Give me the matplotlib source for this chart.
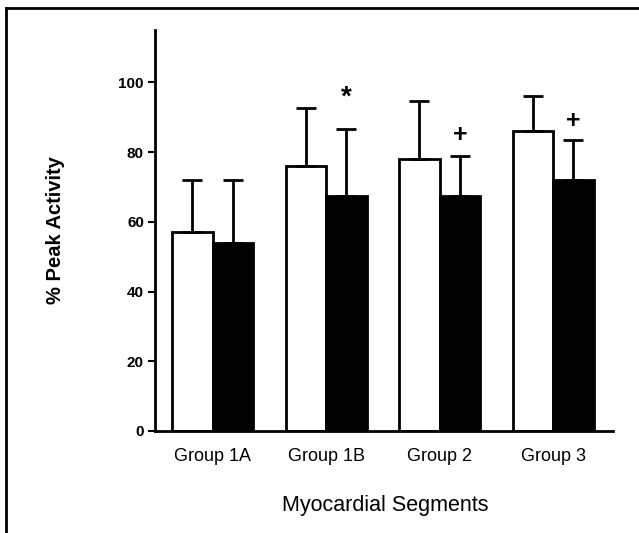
import numpy as np
import matplotlib.pyplot as plt
from matplotlib.lines import Line2D

plt.rcParams['font.family'] = ['Liberation Sans', 'DejaVu Sans']

groups = ['Group 1A', 'Group 1B', 'Group 2', 'Group 3']
open_vals = [57, 76, 78, 86]
open_err = [15, 16.5, 16.5, 10]
solid_vals = [54, 67.5, 67.5, 72]
solid_err = [18, 19, 11.5, 11.5]
marks = ['', '*', '+', '+']
mark_y = [0, 95.5, 85, 89]

fig = plt.figure(figsize=(6.39, 5.33), dpi=100)
ax = fig.add_axes([0.2426, 0.1914, 0.7167, 0.7523])

x = np.arange(len(groups))
w = 0.358
ekw = dict(elinewidth=2, capthick=2, capsize=7.2, ecolor='black')
ax.bar(x - w / 2, open_vals, w, color='white', edgecolor='black', linewidth=2,
       yerr=[np.zeros(4), open_err], error_kw=ekw, zorder=2)
ax.bar(x + w / 2, solid_vals, w, color='black', edgecolor='black', linewidth=2,
       yerr=[np.zeros(4), solid_err], error_kw=ekw, zorder=2)

for i, m in enumerate(marks):
    if m:
        ax.text(x[i] + w / 2, mark_y[i], m, ha='center', va='center',
                fontsize=18 if m == '+' else 20, fontweight='bold')

ax.set_xlim(-0.508, 3.527)
ax.set_ylim(0, 115)
ax.set_yticks([0, 20, 40, 60, 80, 100])
ax.set_xticks(x)
ax.set_xticklabels(groups, fontsize=13)
for lab in ax.get_yticklabels():
    lab.set_fontweight('bold')
    lab.set_fontsize(11)
ax.tick_params(axis='x', length=0, pad=12)
ax.tick_params(axis='y', length=5, width=1.5, direction='out', pad=3)
ax.spines['top'].set_visible(False)
ax.spines['right'].set_visible(False)
ax.spines['left'].set_linewidth(2)
ax.spines['bottom'].set_linewidth(2)

ax.set_ylabel('% Peak Activity', fontsize=14.5, fontweight='bold')
ax.yaxis.set_label_coords(-0.196, 0.5)
fig.text(385 / 639, 1 - 505 / 533, 'Myocardial Segments', ha='center',
         va='center', fontsize=15.5)

# frame around the figure (bottom and right cut off in the scan)
fig.add_artist(Line2D([6 / 639, 1], [1 - 8 / 533, 1 - 8 / 533],
                      transform=fig.transFigure, color='black', lw=2))
fig.add_artist(Line2D([6 / 639, 6 / 639], [0, 1 - 8 / 533],
                      transform=fig.transFigure, color='black', lw=2))

fig.savefig('out.png', dpi=100)
